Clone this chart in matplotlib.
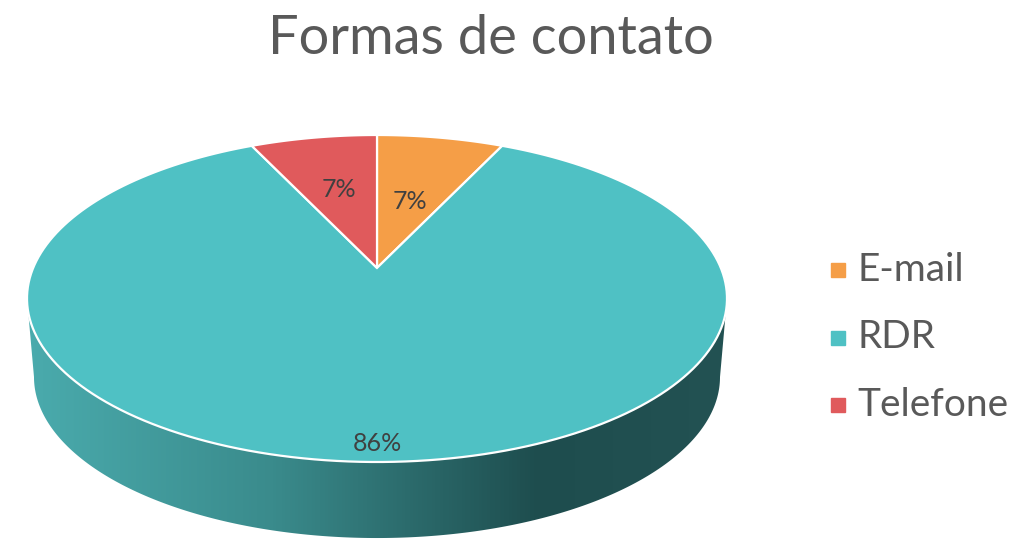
import numpy as np
import matplotlib.pyplot as plt
from matplotlib.colors import LinearSegmentedColormap
from matplotlib.patches import Polygon

labels = ["E-mail", "RDR", "Telefone"]
shares = [7, 86, 7]
colors = ["#F59E47", "#4FC1C4", "#E05A5C"]
title = "Formas de contato"

# pixel geometry of the top ellipse (centre and radii)
cx, cy, rx, ry = 377, 298.5, 350, 163.5
W, H = 1021, 540
depth = 0.48
tilt = 0.187   # perspective shift of the pie centre towards the back


def persp(xy):
    # projective map of the unit disc onto itself, moves the centre up
    x, y = xy[:, 0], xy[:, 1]
    d = 1 + tilt * y
    return np.column_stack([x * np.sqrt(1 - tilt ** 2) / d, (y + tilt) / d])


fig = plt.figure(figsize=(W / 100, H / 100), dpi=100)
ax = fig.add_axes([0, 0, 1, 1])

# cylinder wall (front half), gradient clipped to its outline
t = np.linspace(np.pi, 2 * np.pi, 300)
top = np.column_stack([np.cos(t), np.sin(t)])
bot = np.column_stack([0.98 * np.cos(t[::-1]), 0.985 * np.sin(t[::-1]) - depth])
wall = Polygon(np.vstack([top, bot]), closed=True, facecolor="none", edgecolor="none")
ax.add_patch(wall)
side_cmap = LinearSegmentedColormap.from_list(
    "side", [(0, "#4AABAD"), (0.35, "#3A8B8C"), (0.73, "#1E4D4E"), (1, "#235253")])
grad = np.linspace(0, 1, 512)[None, :]
im = ax.imshow(grad, cmap=side_cmap, aspect="auto",
               extent=[-1, 1, -1 - depth - 0.05, 0.05], zorder=1)
im.set_clip_path(wall)

# top face: flat pie, then each wedge pushed through the perspective map
wedges, _ = ax.pie(shares, colors=colors, startangle=90, counterclock=False)
for w, col in zip(wedges, colors):
    w.set_visible(False)
    a = np.deg2rad(np.linspace(w.theta1, w.theta2, 200))
    arc = np.column_stack([w.r * np.cos(a), w.r * np.sin(a)]) + w.center
    verts = np.vstack([[w.center], arc])
    ax.add_patch(Polygon(persp(verts), closed=True, facecolor=col,
                         edgecolor="white", linewidth=1.6, zorder=2))

# percentage labels
total = sum(shares)
start = 90
dist = [0.47, 0.92, 0.56]
for i, s in enumerate(shares):
    ang = np.deg2rad(start - 360 * s / total / 2)
    start -= 360 * s / total
    px, py = persp(np.array([[dist[i] * np.cos(ang), dist[i] * np.sin(ang)]]))[0]
    ax.text(px, py, f"{round(100 * s / total)}%",
            ha="center", va="center", fontsize=18, color="#404040",
            family="Lato", zorder=3)

ax.set_aspect("auto")
ax.set_xlim(-cx / rx, (W - cx) / rx)
ax.set_ylim((cy - H) / ry, cy / ry)
ax.axis("off")

fig.text(491 / W, 1 - 38 / H, title, ha="center", va="center",
         fontsize=39, color="#595959", family="Lato")

# legend
for i, lab in enumerate(labels):
    y = 1 - (270 + 67.5 * i) / H
    fig.patches.append(plt.Rectangle((831 / W, y - 7 / H), 14 / W, 14 / H,
                                     transform=fig.transFigure, color=colors[i]))
    fig.text(857 / W, y, lab, ha="left", va="center", fontsize=28,
             color="#595959", family="Lato")

fig.savefig("out.png", dpi=100)
